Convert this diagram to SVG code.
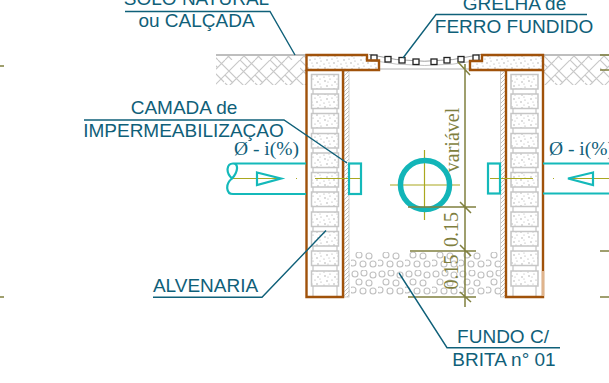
<svg xmlns="http://www.w3.org/2000/svg" width="609" height="383" viewBox="0 0 609 383">
<style>
.lb{font-family:"Liberation Sans",Arial,sans-serif;font-size:19px;fill:#0f6079;text-anchor:middle}
.sf{font-family:"Liberation Serif","Times New Roman",serif;font-size:19.500px;fill:#10607a}
.dt{font-family:"Liberation Serif","Times New Roman",serif;font-size:20px;fill:#7f7f3f;text-anchor:middle}
.ld{fill:none;stroke:#0f6079;stroke-width:1.4}
.br{fill:none;stroke:#a0520a;stroke-width:2.4}
.cy{fill:none;stroke:#14b9ba;stroke-width:2.200}
.ax{fill:none;stroke:#aaa81f;stroke-width:1.2}
.dm{fill:none;stroke:#80803f;stroke-width:1.500}
.bk{fill:url(#st);stroke:#c6c6c6;stroke-width:1.500}
.gr{fill:none;stroke:#c4c4c4;stroke-width:1.200}
</style>
<defs>
<pattern id="st" width="17" height="13" patternUnits="userSpaceOnUse">
<g fill="#9c9c9c"><circle cx="2" cy="3" r=".7"/><circle cx="7" cy="1" r=".6"/><circle cx="12" cy="4" r=".7"/><circle cx="15" cy="9" r=".6"/><circle cx="4" cy="8" r=".7"/><circle cx="9" cy="7" r=".6"/><circle cx="11" cy="11" r=".7"/><circle cx="1" cy="12" r=".6"/><circle cx="6" cy="11" r=".5"/><circle cx="14" cy="1" r=".5"/><circle cx="5" cy="4" r=".5"/><circle cx="14" cy="6" r=".5"/></g>
</pattern>
<pattern id="hat" width="4" height="4" patternUnits="userSpaceOnUse">
<path d="M-1 1L1 -1M0 4L4 0M3 5L5 3" stroke="#b8b8b8" stroke-width=".9"/>
</pattern>
<pattern id="grv" width="27" height="27" patternUnits="userSpaceOnUse">
<g fill="none" stroke="#c0c0c0" stroke-width="1.100"><circle cx="4" cy="4" r="3"/><circle cx="13" cy="3" r="3"/><circle cx="22" cy="5" r="3"/><circle cx="8" cy="12" r="3"/><circle cx="18" cy="13" r="3"/><circle cx="2" cy="20" r="3"/><circle cx="12" cy="21" r="3"/><circle cx="22" cy="21" r="3"/></g>
</pattern>
<pattern id="soil" width="30" height="30" patternUnits="userSpaceOnUse">
<path d="M0 15L15 0M15 30L30 15M0 30L30 0M0 0L8 8M15 15L23 23M8 0L30 22M0 8L14 22M22 30L15 23M0 22L8 30" fill="none" stroke="#c8c8c8" stroke-width="1.100"/>
</pattern>
</defs>

<g id="soil-left"><rect x="216" y="56" width="90" height="29" fill="url(#soil)"/><path d="M216 55H306" fill="none" stroke="#a8a8a8" stroke-width="1.300"/></g>
<g id="soil-right"><rect x="544" y="56" width="65" height="29" fill="url(#soil)"/><path d="M544 55H609" fill="none" stroke="#a8a8a8" stroke-width="1.300"/></g>

<g id="gravel"><rect x="349" y="252" width="151" height="45" fill="url(#grv)"/></g>

<g id="wall-left">
<rect x="344" y="71" width="5" height="226" fill="url(#hat)" stroke="#c6c6c6" stroke-width=".8"/>
<g class="bricks">
<rect class="bk" x="311.500" y="74.500" width="27" height="14.500"/><rect class="bk" x="311.500" y="94" width="27" height="14.500"/><rect class="bk" x="311.500" y="113.500" width="27" height="14.500"/><rect class="bk" x="311.500" y="133.500" width="27" height="14.500"/><rect class="bk" x="311.500" y="153" width="27" height="14.500"/><rect class="bk" x="311.500" y="172.500" width="27" height="14.500"/><rect class="bk" x="311.500" y="192" width="27" height="14.500"/><rect class="bk" x="311.500" y="212" width="27" height="14.500"/><rect class="bk" x="311.500" y="231.500" width="27" height="14.500"/><rect class="bk" x="311.500" y="251" width="27" height="14.500"/><rect class="bk" x="311.500" y="271" width="27" height="15"/>
</g>
<path class="gr" d="M313 89V94M337 89V94M313 108V114M337 108V114M313 128V133M337 128V133M313 148V153M337 148V153M313 168V172M337 168V172M313 187V192M337 187V192M313 207V212M337 207V212M313 226V231M337 226V231M313 246V251M337 246V251M313 266V271M337 266V271M313 286V297M337 286V297"/>
<path class="br" d="M306.500 70V297H343V70"/>
</g>
<g id="wall-right">
<rect x="500.500" y="71" width="5" height="226" fill="url(#hat)" stroke="#c6c6c6" stroke-width=".8"/>
<g class="bricks">
<rect class="bk" x="511" y="74.500" width="27" height="14.500"/><rect class="bk" x="511" y="94" width="27" height="14.500"/><rect class="bk" x="511" y="113.500" width="27" height="14.500"/><rect class="bk" x="511" y="133.500" width="27" height="14.500"/><rect class="bk" x="511" y="153" width="27" height="14.500"/><rect class="bk" x="511" y="172.500" width="27" height="14.500"/><rect class="bk" x="511" y="192" width="27" height="14.500"/><rect class="bk" x="511" y="212" width="27" height="14.500"/><rect class="bk" x="511" y="231.500" width="27" height="14.500"/><rect class="bk" x="511" y="251" width="27" height="14.500"/><rect class="bk" x="511" y="271" width="27" height="15"/>
</g>
<path class="gr" d="M513 89V94M536 89V94M513 108V114M536 108V114M513 128V133M536 128V133M513 148V153M536 148V153M513 168V172M536 168V172M513 187V192M536 187V192M513 207V212M536 207V212M513 226V231M536 226V231M513 246V251M536 246V251M513 266V271M536 266V271M513 286V297M536 286V297"/>
<path class="br" d="M506 70V297H543V271"/>
<path d="M543 70V271" class="br"/>
<path d="M543 271V296" fill="none" stroke="#e0b48c" stroke-width="2.400"/>
</g>

<g id="grate">
<path d="M380 69H470" fill="none" stroke="#d8d8d8" stroke-width="2"/>
<path d="M369 54.500Q424 68 481 54.500" fill="none" stroke="#777" stroke-width=".7"/>
<path d="M369 60Q424 71 481 60" fill="none" stroke="#999" stroke-width=".6"/>
<g fill="#fff" stroke="#222" stroke-width="1.300">
<rect x="371" y="55" width="6" height="5.500"/><rect x="385" y="56.500" width="6" height="5.500"/><rect x="399" y="57.500" width="6" height="5.500"/><rect x="413" y="59" width="6" height="5.500"/><rect x="431" y="59" width="6" height="5.500"/><rect x="444" y="57.500" width="6" height="5.500"/><rect x="458" y="56.500" width="6" height="5.500"/><rect x="473" y="55" width="6" height="5.500"/>
</g>
</g>

<g id="slab-left"><path d="M306.500 55H367V60.500H379V70H306.500Z" fill="url(#st)" stroke="#a0520a" stroke-width="2.400"/></g>
<g id="slab-right"><path d="M482 55H543V70H470V61H482Z" fill="url(#st)" stroke="#a0520a" stroke-width="2.400"/></g>

<g id="pipe-left">
<path class="ax" d="M231 178.500H281M296 178.500H297M315 178.500H360"/>
<path class="cy" d="M306 163.500H233C227 163.500 225 172 232 178.500C238 172 239 163.500 233 163.500M232 178.500C225 184 226 194 233 194H306"/>
<path class="cy" d="M257 172.500L281 178.500L257 185Z"/>
<rect class="cy" x="349" y="163.500" width="12" height="30.500"/>
</g>
<g id="pipe-right">
<path class="ax" d="M490 178.500H533M553 178.500H554M568 178.500H609"/>
<path class="cy" d="M543 163.500H609M543 193.500H609"/>
<path class="cy" d="M593 172.500L568 178.500L593 185Z"/>
<rect class="cy" x="488" y="163.500" width="12" height="30"/>
</g>
<g id="pipe-section">
<path class="ax" d="M424.500 150V220M390 185H460"/>
<circle cx="425" cy="185" r="24.500" fill="none" stroke="#12b5b8" stroke-width="5.500"/>
</g>

<g id="dimensions">
<path class="dm" d="M465 64V307M458 62L470 75M408 207H476M460 202L471 213M410 251H476M460 245L471 256M408 297H476M460 292L471 302"/>
<text class="dt" transform="translate(458.500 140) rotate(-90)">variável</text>
<text class="dt" transform="translate(457.500 229.500) rotate(-90)">0.15</text>
<text class="dt" transform="translate(457.500 272) rotate(-90)">0.15</text>
<path d="M0 66H4M0 297H4M600 55H609M600 70H609M600 251H609M600 297H609" class="dm"/>
</g>

<g id="connectors">
<path class="ld" d="M125 11.500H270L295 55"/>
<path class="ld" d="M587 14.500H436L403 58"/>
<path class="ld" d="M84 120H284L347 163"/>
<path class="ld" d="M153 297.300H262L326 230.500"/>
<path class="ld" d="M560 347.700H447L399 273"/>
</g>

<g id="labels">
<text class="lb" x="196.500" y="5">SOLO NATURAL</text>
<text class="lb" x="196.500" y="27">ou CALÇADA</text>
<text class="lb" x="514.500" y="10">GRELHA de</text>
<text class="lb" x="514" y="33">FERRO FUNDIDO</text>
<text class="lb" x="184" y="114">CAMADA de</text>
<text class="lb" x="183.500" y="137">IMPERMEABILIZAÇAO</text>
<text class="lb" x="205.500" y="292">ALVENARIA</text>
<text class="lb" x="503" y="343">FUNDO C/</text>
<text class="lb" x="504" y="366">BRITA n° 01</text>
<text class="sf" x="234" y="155">Ø - i(%)</text>
<text class="sf" x="549" y="155">Ø - i(%)</text>
</g>
</svg>
